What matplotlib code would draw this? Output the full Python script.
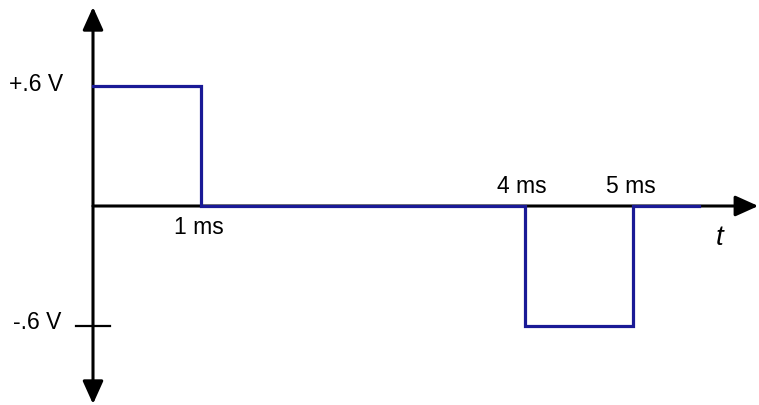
import matplotlib.pyplot as plt

# square pulse signal (time in ms, voltage in V)
t_ms = [0, 1, 1, 4, 4, 5, 5, 5.61]
volts = [0.6, 0.6, 0, 0, -0.6, -0.6, 0, 0]

level_labels = ['+.6 V', '-.6 V']
level_values = [0.6, -0.6]
time_labels = ['1 ms', '4 ms', '5 ms']
time_values = [1, 4, 5]

plt.rcParams['font.family'] = ['Liberation Sans', 'DejaVu Sans']

fig = plt.figure(figsize=(7.59, 4.06), dpi=100)
ax = fig.add_axes([0, 0, 1, 1])
ax.set_xlim(-93 / 108, (759 - 93) / 108)
ax.set_ylim(-199 / 200, 207 / 200)
ax.axis('off')

blue = '#1a1a96'

# axes with arrows
ax.annotate('', xy=(6.16, 0), xytext=(0, 0),
            arrowprops=dict(arrowstyle='-|>,head_length=1.0,head_width=0.45',
                            color='black', lw=2.2, mutation_scale=14,
                            shrinkA=0, shrinkB=0), zorder=2)
ax.annotate('', xy=(0, 0.995), xytext=(0, -0.99),
            arrowprops=dict(arrowstyle='<|-|>,head_length=1.0,head_width=0.45',
                            color='black', lw=2.2, mutation_scale=14,
                            shrinkA=0, shrinkB=0), zorder=2)

# -0.6 V tick mark
ax.plot([-0.16, 0.16], [-0.6, -0.6], color='black', lw=1.6, zorder=2)

# signal
ax.plot(t_ms, volts, color=blue, lw=2.3, solid_joinstyle='miter', zorder=3)

# labels
fs = 16.5
ax.text(-0.28, level_values[0] + 0.01, level_labels[0], ha='right', va='center', fontsize=fs)
ax.text(-0.29, level_values[1] + 0.02, level_labels[1], ha='right', va='center', fontsize=fs)
ax.text(time_values[0] - 0.02, -0.105, time_labels[0], ha='center', va='center', fontsize=fs)
ax.text(time_values[1] - 0.03, 0.1, time_labels[1], ha='center', va='center', fontsize=fs)
ax.text(time_values[2] - 0.02, 0.1, time_labels[2], ha='center', va='center', fontsize=fs)
ax.text(5.8, -0.155, 't', ha='center', va='center', fontsize=20, style='italic')

fig.savefig('out.png', dpi=100)
